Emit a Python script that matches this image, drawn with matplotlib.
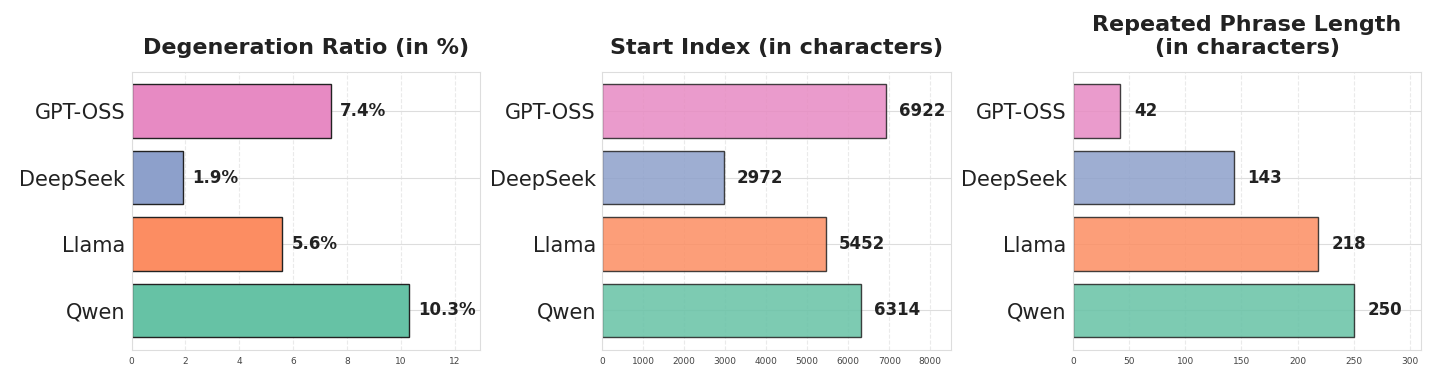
import matplotlib
matplotlib.use("Agg")
import matplotlib.pyplot as plt
import seaborn as sns

sns.set_style("whitegrid")
plt.rcParams['font.family'] = ['DejaVu Sans']

models = ['Qwen', 'Llama', 'DeepSeek', 'GPT-OSS']
colors = ['#66c2a5', '#fc8d62', '#8da0cb', '#e78ac3']

degeneration_ratio = [10.3, 5.6, 1.9, 7.4]
start_index = [6314, 5452, 2972, 6922]
phrase_length = [250, 218, 143, 42]

panels = [
    (degeneration_ratio, 'Degeneration Ratio (in %)', '{:.1f}%', 1.0, 12.95, 0.026),
    (start_index, 'Start Index (in characters)', '{:.0f}', 0.85, 8500, 0.037),
    (phrase_length, 'Repeated Phrase Length\n(in characters)', '{:.0f}', 0.85, 310, 0.04),
]

fig, axes = plt.subplots(1, 3, figsize=(14.46, 3.78), dpi=100)
fig.subplots_adjust(left=0.091, right=0.983, bottom=0.075, top=0.81, wspace=0.35)

for ax, (vals, title, fmt, alpha, xmax, off) in zip(axes, panels):
    ax.barh(models, vals, color=colors, alpha=alpha, edgecolor='#222222',
            linewidth=1.0, height=0.8, zorder=2)
    ax.set_xlim(0, xmax)
    for i, v in enumerate(vals):
        ax.text(v + xmax * off, i, fmt.format(v), va='center', ha='left',
                fontsize=12, fontweight='bold', color='#222222', zorder=3)
    ax.set_title(title, fontsize=16, fontweight='bold', color='#222222', pad=13)
    ax.tick_params(axis='y', labelsize=15, colors='#222222', pad=1)
    ax.tick_params(axis='x', labelsize=6.5, colors='#444444', pad=2)
    ax.grid(axis='x', linestyle='--', alpha=0.4, zorder=0)
    ax.grid(axis='y', linestyle='-', color='#dddddd', zorder=0)
    for s in ax.spines.values():
        s.set_color('#dddddd')

fig.savefig('out.png', dpi=100)
